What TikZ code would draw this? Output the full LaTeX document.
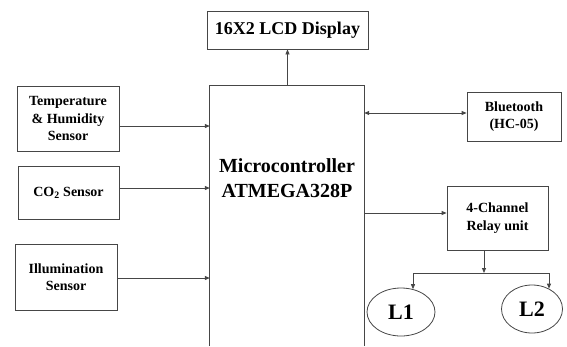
\documentclass[tikz,border=0pt]{standalone}
\usepackage{fontspec}
\setmainfont{Liberation Serif}
\usetikzlibrary{arrows.meta,shapes.geometric}
\definecolor{linec}{RGB}{70,70,70}
\begin{document}
\begin{tikzpicture}[x=1pt,y=-1pt,
  ln/.style={draw=linec, line width=0.8pt},
  blk/.style={ln, rectangle, inner sep=0pt, align=center, font=\bfseries\fontsize{14}{17.5}\selectfont},
  arr/.style={ln, -{Triangle[length=5pt,width=4pt]}},
  biarr/.style={ln, {Triangle[length=5pt,width=4pt]}-{Triangle[length=5pt,width=4pt]}},
  lamp/.style={ln, ellipse, inner sep=0pt, font=\bfseries\fontsize{22}{24}\selectfont}]
\useasboundingbox (0,0) rectangle (567,346);
% boxes
\node[blk, minimum width=161pt, minimum height=38pt, font=\bfseries\fontsize{18}{20}\selectfont] (lcd) at (287.5,30) {16X2 LCD Display};
\node[minimum width=154pt, minimum height=260pt, inner sep=0pt] (mcu) at (287,216) {};
\draw[ln] (mcu.south west) -- (mcu.north west) -- (mcu.north east) -- (mcu.south east);
\node[align=center, inner sep=0pt, font=\bfseries\fontsize{20}{25}\selectfont] (mcutext) at (287,178) {Microcontroller\\ATMEGA328P};
\node[blk, minimum width=102pt, minimum height=65pt] (temp) at (68,118.5) {Temperature\\\& Humidity\\Sensor};
\node[blk, minimum width=101pt, minimum height=53pt] (co2) at (68.5,192.5) {CO\textsubscript{2} Sensor};
\node[blk, minimum width=102pt, minimum height=66pt] (ill) at (66,277) {Illumination\\Sensor};
\node[blk, minimum width=94pt, minimum height=49pt] (bt) at (514,116.5) {Bluetooth\\(HC-05)};
\node[blk, minimum width=101pt, minimum height=64pt] (relay) at (497.5,218) {4-Channel\\Relay unit};
\node[lamp, minimum width=68pt, minimum height=48pt] (l1) at (401,312) {L1};
\node[lamp, minimum width=61pt, minimum height=48pt] (l2) at (532,309) {L2};
% connectors
\draw[arr] (mcu.north -| lcd.south) -- (lcd.south);
\draw[arr] (temp.east |- 0,126) -- (mcu.west |- 0,126);
\draw[arr] (co2.east |- 0,188) -- (mcu.west |- 0,188);
\draw[arr] (ill.east |- 0,278) -- (mcu.west |- 0,278);
\draw[biarr] (mcu.east |- 0,113) -- (bt.west |- 0,113);
\draw[arr] (mcu.east |- 0,213) -- (relay.west |- 0,213);
\coordinate (j) at (484,273);
\coordinate (bl) at (413,273);
\coordinate (br) at (549,273);
\draw[arr] (relay.south -| j) -- (j);
\draw[ln] (bl) -- (br);
\draw[arr] (bl) -- (bl |- l1.62);
\draw[arr] (br) -- (br |- l2.50);
\end{tikzpicture}
\end{document}
